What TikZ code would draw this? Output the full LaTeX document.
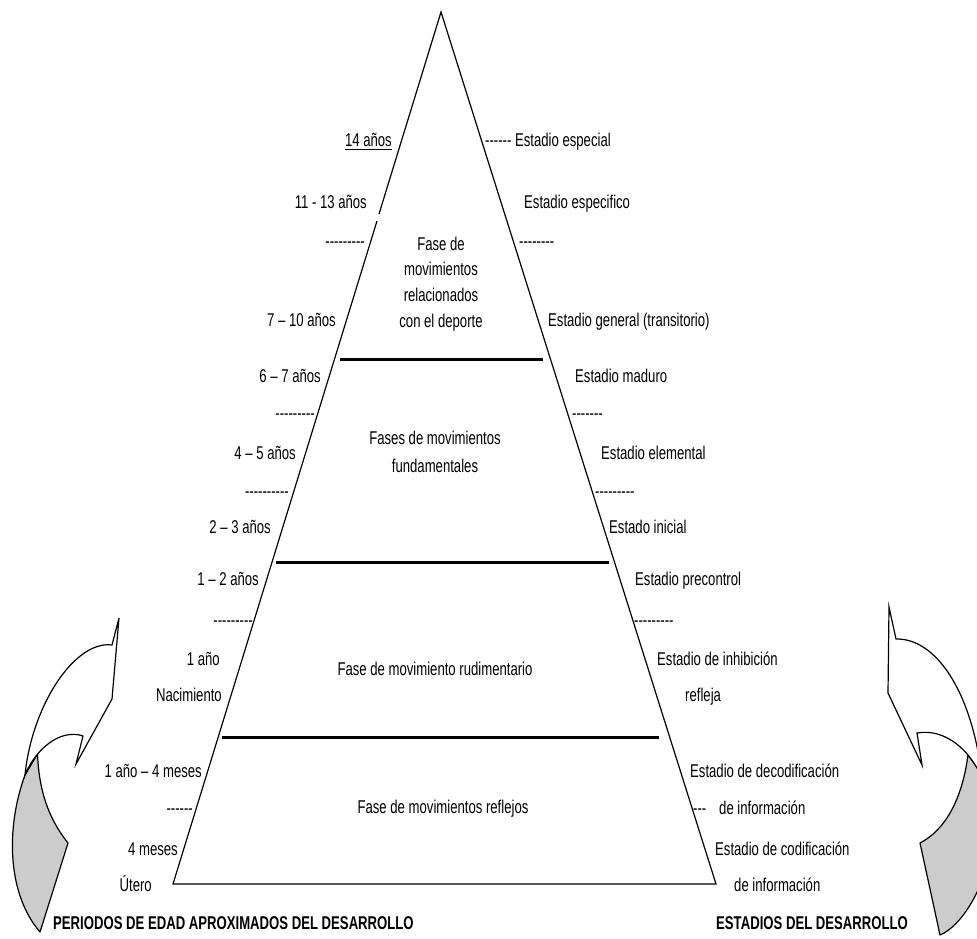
\documentclass[tikz,border=0pt]{standalone}
\usepackage{fontspec}
\setmainfont{Liberation Sans}[FakeStretch=0.71,Ligatures=TeXOff]
\begin{document}
\begin{tikzpicture}[x=1pt,y=-1pt,
  every node/.style={font=\fontsize{18.5}{25.7}\selectfont, inner sep=0pt, text=black},
  lbl/.style={anchor=mid east, yshift=-1.5pt},
  rbl/.style={anchor=mid west, yshift=-1.5pt},
  ttl/.style={anchor=mid west, yshift=-1.5pt, font=\fontsize{18.5}{22}\selectfont\bfseries},
  edge/.style={line width=1.2pt, line join=miter},
  sepline/.style={line width=3pt},
  arrowback/.style={fill=black!20, draw=black, line width=1.2pt, line join=round},
  arrowfront/.style={fill=white, draw=black, line width=1.2pt, line join=miter}]
\useasboundingbox (0,0) rectangle (977,939);
\clip (0,0) rectangle (977,939);

% ---------- curved arrows ----------
\path[arrowback] (37.5,754) .. controls (39,790) and (48,818) .. (68,843)
  -- (40,932) .. controls (8,895) and (5,830) .. (25,775) -- cycle;
\path[arrowfront] (119,618) -- (112,645) .. controls (75,640) and (32,705) .. (25,775)
  .. controls (35,750) and (60,728) .. (83,736) -- (76,764) -- (112,699) -- cycle;

\path[arrowback] (968,755) .. controls (962,800) and (945,830) .. (920,843)
  -- (940,935) .. controls (958,928) and (990,890) .. (995,820) -- (985,778) -- cycle;
\path[arrowfront] (889,607) -- (896,639) .. controls (935,638) and (972,690) .. (982,778)
  .. controls (970,750) and (945,728) .. (917,733) -- (922,765) -- (888,693) -- cycle;

% ---------- triangle ----------
\coordinate (apex) at (441,12);
\coordinate (bl) at (173,884);
\coordinate (br) at (716,884);
\coordinate (gapa) at (379,214);
\coordinate (gapb) at (377,221);
\draw[edge] (gapa) -- (apex) -- (br) -- (bl) -- (gapb);

\coordinate (s1a) at (340,359); \coordinate (s1b) at (543,359);
\coordinate (s2a) at (276,562); \coordinate (s2b) at (609,562);
\coordinate (s3a) at (222,737); \coordinate (s3b) at (659,737);
\draw[sepline] (s1a) -- (s1b);
\draw[sepline] (s2a) -- (s2b);
\draw[sepline] (s3a) -- (s3b);

% ---------- phase texts ----------
\node[align=center] (ph1) at (441,284) {Fase de\\movimientos\\relacionados\\con el deporte};
\node[align=center, font=\fontsize{18.5}{28}\selectfont] (ph2) at (435,452) {Fases de movimientos\\fundamentales};
\node (ph3) at (435,669) {Fase de movimiento rudimentario};
\node (ph4) at (443,809) {Fase de movimientos reflejos};

% ---------- left labels ----------
\node[lbl] (l1) at (392,142) {14 años};
\draw[line width=0.8pt] (l1.south west) ++(0,3) coordinate (u1) -- (l1.south east |- u1);
\node[lbl] (l2) at (367,204) {11 - 13 años};
\node[lbl] (l3) at (365,243) {---------};
\node[lbl] (l4) at (336,322) {7 – 10 años};
\node[lbl] (l5) at (321,378) {6 – 7 años};
\node[lbl] (l6) at (315,415) {---------};
\node[lbl] (l7) at (296,455) {4 – 5 años};
\node[lbl] (l8) at (289,493) {----------};
\node[lbl] (l9) at (271,529) {2 – 3 años};
\node[lbl] (l10) at (259,581) {1 – 2 años};
\node[lbl] (l11) at (253,622) {---------};
\node[lbl] (l12) at (220,661) {1 año};
\node[lbl] (l13) at (222,697) {Nacimiento};
\node[lbl] (l14) at (202,773) {1 año – 4 meses};
\node[lbl] (l15) at (193,810) {------};
\node[lbl] (l16) at (178,851) {4 meses};
\node[lbl] (l17) at (152,887) {Útero};
\node[ttl] (t1) at (53,925) {PERIODOS DE EDAD APROXIMADOS DEL DESARROLLO};

% ---------- right labels ----------
\node[rbl] (r1) at (485,142) {------ Estadio especial};
\node[rbl] (r2) at (524,204) {Estadio especifico};
\node[rbl] (r3) at (519,243) {--------};
\node[rbl] (r4) at (548,322) {Estadio general (transitorio)};
\node[rbl] (r5) at (575,378) {Estadio maduro};
\node[rbl] (r6) at (572,415) {-------};
\node[rbl] (r7) at (601,455) {Estadio elemental};
\node[rbl] (r8) at (595,493) {---------};
\node[rbl] (r9) at (609,529) {Estado inicial};
\node[rbl] (r10) at (635,581) {Estadio precontrol};
\node[rbl] (r11) at (634,622) {---------};
\node[rbl] (r12) at (657,661) {Estadio de inhibición};
\node[rbl] (r13) at (685,697) {refleja};
\node[rbl] (r14) at (690,773) {Estadio de decodificación};
\node[rbl] (r15) at (693,810) {---};
\node[rbl] (r16) at (719,810) {de información};
\node[rbl] (r17) at (715,851) {Estadio de codificación};
\node[rbl] (r18) at (734,887) {de información};
\node[ttl] (t2) at (716,925) {ESTADIOS DEL DESARROLLO};
\end{tikzpicture}
\end{document}
